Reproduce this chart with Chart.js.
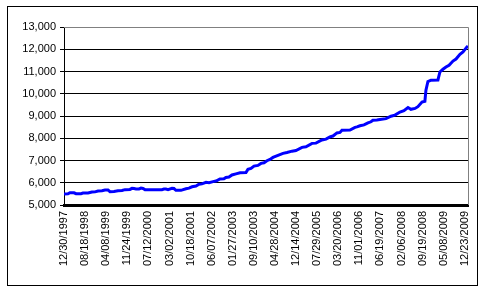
<!DOCTYPE html>
<html>
<head>
<meta charset="utf-8">
<script src="https://cdn.jsdelivr.net/npm/chart.js@4/dist/chart.umd.min.js"></script>
<style>
html,body{margin:0;padding:0;background:#fff;}
#wrap{width:487px;height:292px;position:relative;}
</style>
</head>
<body>
<div id="wrap"><canvas id="c" width="487" height="292"></canvas></div>
<script>
// Tick labels (one every 160 trading days)
const dateLabels = ["12/30/1997","08/18/1998","04/08/1999","11/24/1999","07/12/2000","03/02/2001","10/18/2001","06/07/2002","01/27/2003","09/10/2003","04/28/2004","12/14/2004","07/29/2005","03/20/2006","11/01/2006","06/19/2007","02/06/2008","09/19/2008","05/08/2009","12/23/2009"];
const labelStep = 160;
const lastDay = 3064;

// Series: trading-day index and value
const dayIndex = [0,30,45,76,91,129,144,182,212,235,258,288,311,334,349,379,409,440,463,500,516,531,546,569,584,599,614,743,758,773,789,819,834,849,887,925,948,971,1001,1024,1046,1077,1100,1130,1153,1183,1213,1228,1251,1274,1304,1335,1380,1395,1418,1441,1471,1494,1517,1539,1562,1585,1623,1661,1691,1729,1759,1805,1835,1881,1911,1956,1987,2017,2040,2070,2093,2108,2169,2207,2222,2245,2275,2305,2328,2343,2373,2396,2442,2480,2510,2548,2578,2609,2631,2662,2684,2715,2737,2745,2760,2783,2836,2851,2874,2897,2920,2950,2973,3003,3026,3056,3064];
const values = [5490,5500,5550,5550,5510,5510,5540,5540,5580,5590,5630,5640,5670,5670,5600,5610,5640,5650,5690,5700,5750,5740,5720,5720,5760,5740,5690,5690,5720,5720,5690,5750,5740,5660,5660,5730,5760,5820,5850,5930,5950,6020,6000,6050,6080,6170,6180,6240,6260,6350,6400,6450,6460,6600,6640,6750,6780,6870,6900,6990,7050,7140,7230,7320,7360,7420,7450,7590,7620,7770,7780,7920,7960,8060,8100,8240,8260,8360,8370,8490,8510,8560,8600,8690,8740,8810,8820,8840,8880,8990,9040,9180,9240,9380,9300,9340,9420,9630,9660,10160,10550,10610,10620,10980,11100,11200,11280,11470,11560,11770,11880,12100,12150];

// Y axis ticks
const yMin = 5000, yMax = 13000, yStep = 1000;

const points = dayIndex.map((d, i) => ({x: d, y: values[i]}));
const FONT = {family: "'Liberation Sans', Arial, sans-serif", size: 11};

const frame = {
  id: 'frame',
  beforeDraw(chart) {
    const ctx = chart.ctx;
    ctx.save();
    ctx.fillStyle = '#fff';
    ctx.fillRect(0, 0, chart.width, chart.height);
    ctx.restore();
  },
  beforeDatasetsDraw(chart) {
    const {ctx, chartArea: a} = chart;
    ctx.save();
    ctx.strokeStyle = '#808080';
    ctx.lineWidth = 1;
    ctx.beginPath();
    ctx.moveTo(a.left, Math.round(a.top) + 0.5);
    ctx.lineTo(Math.round(a.right) + 0.5, Math.round(a.top) + 0.5);
    ctx.lineTo(Math.round(a.right) + 0.5, a.bottom);
    ctx.stroke();
    ctx.restore();
  },
  afterDraw(chart) {
    const ctx = chart.ctx;
    ctx.save();
    ctx.strokeStyle = '#000';
    ctx.lineWidth = 1;
    ctx.strokeRect(7.5, 6.5, 470, 279);
    ctx.restore();
  }
};

new Chart(document.getElementById('c'), {
  type: 'line',
  data: {
    datasets: [{
      data: points,
      borderColor: '#0000FF',
      borderWidth: 3,
      pointRadius: 0,
      tension: 0,
      fill: false
    }]
  },
  options: {
    responsive: false,
    animation: false,
    parsing: true,
    layout: {padding: {left: 0, top: 27, right: 19, bottom: 0}},
    plugins: {legend: {display: false}, title: {display: false}, tooltip: {enabled: false}},
    scales: {
      x: {
        type: 'linear',
        min: 0,
        max: lastDay,
        afterBuildTicks(scale) {
          scale.ticks = dateLabels.map((d, i) => ({value: i * labelStep}));
        },
        afterFit(scale) { scale.height = 87; },
        grid: {display: false, drawTicks: false},
        border: {display: true, color: '#000', width: 3},
        ticks: {
          autoSkip: false,
          minRotation: 90,
          maxRotation: 90,
          padding: 6,
          color: '#000',
          font: FONT,
          callback(v) { return dateLabels[Math.round(v / labelStep)] || ''; }
        }
      },
      y: {
        min: yMin,
        max: yMax,
        afterFit(scale) { scale.width = 64; },
        grid: {
          color: (c) => (c.tick && c.tick.value === yMax) ? 'rgba(0,0,0,0)' : '#000',
          tickColor: '#000',
          tickLength: 4,
          lineWidth: 1
        },
        border: {display: true, color: '#000', width: 1},
        ticks: {
          stepSize: yStep,
          padding: 4,
          color: '#000',
          font: FONT,
          callback(v) { return v.toLocaleString('en-US'); }
        }
      }
    }
  },
  plugins: [frame]
});
</script>
</body>
</html>
